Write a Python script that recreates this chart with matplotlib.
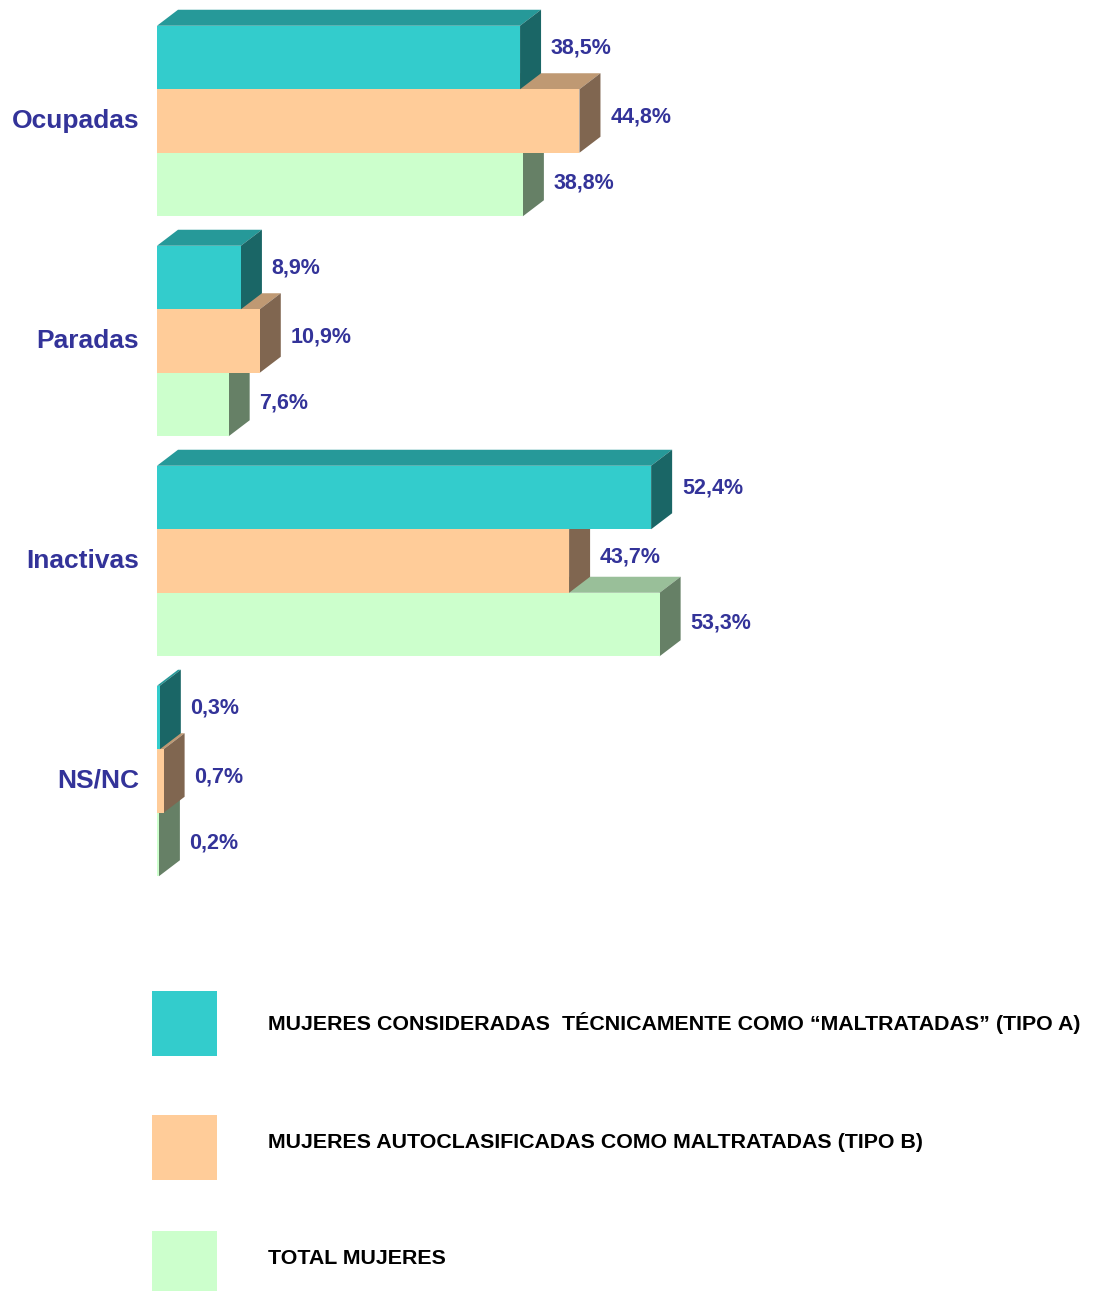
import matplotlib.pyplot as plt
from matplotlib.patches import Polygon, Rectangle

plt.rcParams['font.family'] = ['Liberation Sans', 'DejaVu Sans']

categories = ["Ocupadas", "Paradas", "Inactivas", "NS/NC"]
tipo_a = [38.5, 8.9, 52.4, 0.3]
tipo_b = [44.8, 10.9, 43.7, 0.7]
total = [38.8, 7.6, 53.3, 0.2]
series = [tipo_a, tipo_b, total]
legend_labels = [
    "MUJERES CONSIDERADAS  TÉCNICAMENTE COMO \u201cMALTRATADAS\u201d (TIPO A)",
    "MUJERES AUTOCLASIFICADAS COMO MALTRATADAS (TIPO B)",
    "TOTAL MUJERES",
]

front_c = ["#33CCCC", "#FFCC99", "#CCFFCC"]
top_c = ["#269999", "#BF9973", "#99BF99"]
side_c = ["#1A6666", "#806650", "#668066"]
txt_c = "#333399"

W, H = 1096, 1291
fig = plt.figure(figsize=(W / 100, H / 100), dpi=100)

# axes: x in %, y in group units (1 group = 220 px)
px_per_pct = 9.43
px_per_grp = 220.0
ax = fig.add_axes([157 / W, 0, (W - 157) / W, 1])
ax.set_xlim(0, (W - 157) / px_per_pct)
ax.set_ylim((H - 121) / px_per_grp, -121 / px_per_grp)
ax.axis('off')

bar_h = 63.5 / px_per_grp
dx = 21 / px_per_pct
dy = 16 / px_per_grp
lab_dy = [7, 3.2, 1.3]  # points, label lift per series

for i, cat in enumerate(categories):
    # draw bottom bar first so the upper ones cover its top/side
    for s in [2, 1, 0]:
        v = series[s][i]
        y0 = i + (s - 1) * bar_h - bar_h / 2
        y1 = y0 + bar_h
        ax.add_patch(Polygon([(0, y0), (dx, y0 - dy), (v + dx, y0 - dy), (v, y0)],
                             closed=True, fc=top_c[s], lw=0))
        ax.add_patch(Polygon([(v, y0), (v + dx, y0 - dy), (v + dx, y1 - dy), (v, y1)],
                             closed=True, fc=side_c[s], lw=0))
        ax.add_patch(Rectangle((0, y0), v, bar_h, fc=front_c[s], lw=0))
        ax.annotate(f"{v:.1f}".replace('.', ',') + "%", xy=(v + dx, (y0 + y1) / 2),
                    xytext=(7, lab_dy[s]), textcoords='offset points',
                    ha='left', va='center', fontsize=15.5, fontweight='bold', color=txt_c)
    ax.annotate(cat, xy=(0, i), xytext=(-12.8, 0), textcoords='offset points',
                ha='right', va='center', fontsize=19, fontweight='bold', color=txt_c)

# legend
leg_top = [991, 1115, 1231]
leg_txt_y = [1023, 1142, 1259]
for k, lab in enumerate(legend_labels):
    fig.add_artist(Rectangle((152 / W, 1 - (leg_top[k] + 65) / H), 65 / W, 65 / H,
                             transform=fig.transFigure, fc=front_c[k], lw=0))
    fig.text(268 / W, 1 - leg_txt_y[k] / H, lab, ha='left', va='center',
             fontsize=15.4, fontweight='bold', color='black')

fig.savefig("out.png", dpi=100)
